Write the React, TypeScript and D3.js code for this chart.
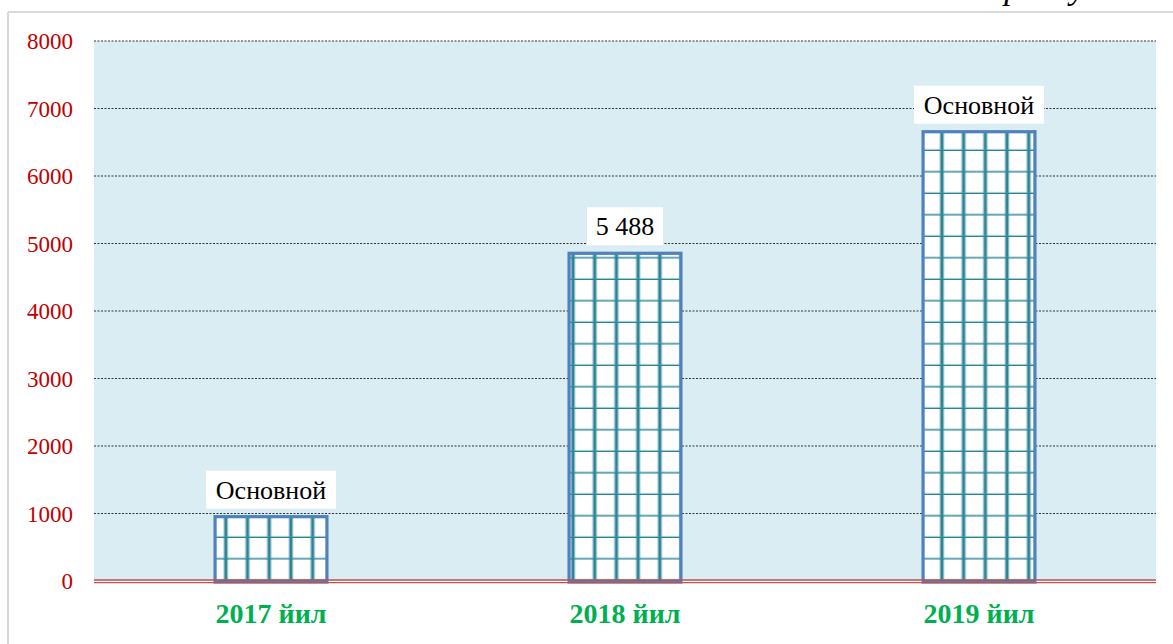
import React from "react";
import * as d3 from "d3";

const categories = ["2017 йил", "2018 йил", "2019 йил"];
const values = [953, 4855, 6656];
const valueLabels = ["Основной", "5 488", "Основной"];
const yTicks = [0, 1000, 2000, 3000, 4000, 5000, 6000, 7000, 8000];
const unitText = "млрд. сўм";

const W = 1173;
const H = 644;
const plot = { left: 94, right: 1156, top: 41, bottom: 581 };

export default function App() {
  const x = d3
    .scaleBand<string>()
    .domain(categories)
    .range([plot.left, plot.right])
    .paddingInner(0.684)
    .paddingOuter(0.342);
  const y = d3.scaleLinear().domain([0, 8000]).range([plot.bottom, plot.top]);
  const bw = x.bandwidth();
  const serif = "Liberation Serif, Times New Roman, serif";

  return (
    <svg
      width={W}
      height={H}
      style={{ position: "absolute", left: 0, top: 0, background: "#fff", fontFamily: serif }}
    >
      <defs>
        <pattern id="grid" patternUnits="userSpaceOnUse" width={21.7} height={21.5} x={0} y={581 - 21.5 * 27}>
          <rect width={21.7} height={21.5} fill="#fff" />
          <rect x={6.4} y={0} width={4.8} height={21.5} fill="#4a9aa9" opacity={0.5} />
          <rect x={7.5} y={0} width={2.6} height={21.5} fill="#2b8394" />
          <rect x={0} y={19.4} width={21.7} height={4.8} fill="#4a9aa9" opacity={0.5} />
          <rect x={0} y={20.5} width={21.7} height={2.6} fill="#2b8394" />
        </pattern>
      </defs>

      {/* frame */}
      <line x1={8} x2={W} y1={12} y2={12} stroke="#d9d9d9" strokeWidth={2} />
      <line x1={8} x2={8} y1={12} y2={H} stroke="#d9d9d9" strokeWidth={2} />

      {/* cut-off unit text (only descenders visible, as in the reference) */}
      <text x={1107} y={-1.5} textAnchor="end" fontStyle="italic" fontSize={34} fill="#000">
        {unitText}
      </text>

      {/* plot background */}
      <rect
        x={plot.left}
        y={plot.top}
        width={plot.right - plot.left}
        height={plot.bottom - plot.top}
        fill="#daedf3"
      />

      {/* gridlines */}
      {yTicks
        .filter((t) => t > 0)
        .map((t) => (
          <line
            key={t}
            x1={plot.left}
            x2={plot.right}
            y1={y(t)}
            y2={y(t)}
            stroke="#333"
            strokeWidth={1}
            strokeDasharray="2 1.5"
          />
        ))}

      {/* y tick labels */}
      {yTicks.map((t) => (
        <text
          key={t}
          x={73}
          y={y(t)}
          dy="0.35em"
          textAnchor="end"
          fontSize={23}
          fill="#c00000"
        >
          {t}
        </text>
      ))}

      {/* bars */}
      {categories.map((c, i) => (
        <rect
          key={c}
          x={x(c)!}
          y={y(values[i])}
          width={bw}
          height={y(0) - y(values[i]) + 1}
          fill="url(#grid)"
          stroke="#4f81bd"
          strokeWidth={3.2}
        />
      ))}

      {/* zero line (double red) */}
      <line x1={plot.left} x2={plot.right} y1={y(0) - 1} y2={y(0) - 1} stroke="#c0504d" strokeWidth={1.3} />
      <line x1={plot.left} x2={plot.right} y1={y(0) + 1.7} y2={y(0) + 1.7} stroke="#c0504d" strokeWidth={1.3} />

      {/* value labels */}
      {categories.map((c, i) => {
        const cx = x(c)! + bw / 2;
        const top = y(values[i]);
        const label = valueLabels[i];
        const boxW = label.length > 5 ? 130 : 76;
        const boxH = 38;
        return (
          <g key={c}>
            <rect x={cx - boxW / 2} y={top - 8 - boxH} width={boxW} height={boxH} fill="#fff" />
            <text x={cx} y={top - 8 - boxH / 2} dy="0.35em" textAnchor="middle" fontSize={26} fill="#000">
              {label}
            </text>
          </g>
        );
      })}

      {/* category labels */}
      {categories.map((c) => (
        <text
          key={c}
          x={x(c)! + bw / 2}
          y={613}
          dy="0.35em"
          textAnchor="middle"
          fontSize={28}
          fontWeight="bold"
          fill="#00b050"
        >
          {c}
        </text>
      ))}
    </svg>
  );
}
